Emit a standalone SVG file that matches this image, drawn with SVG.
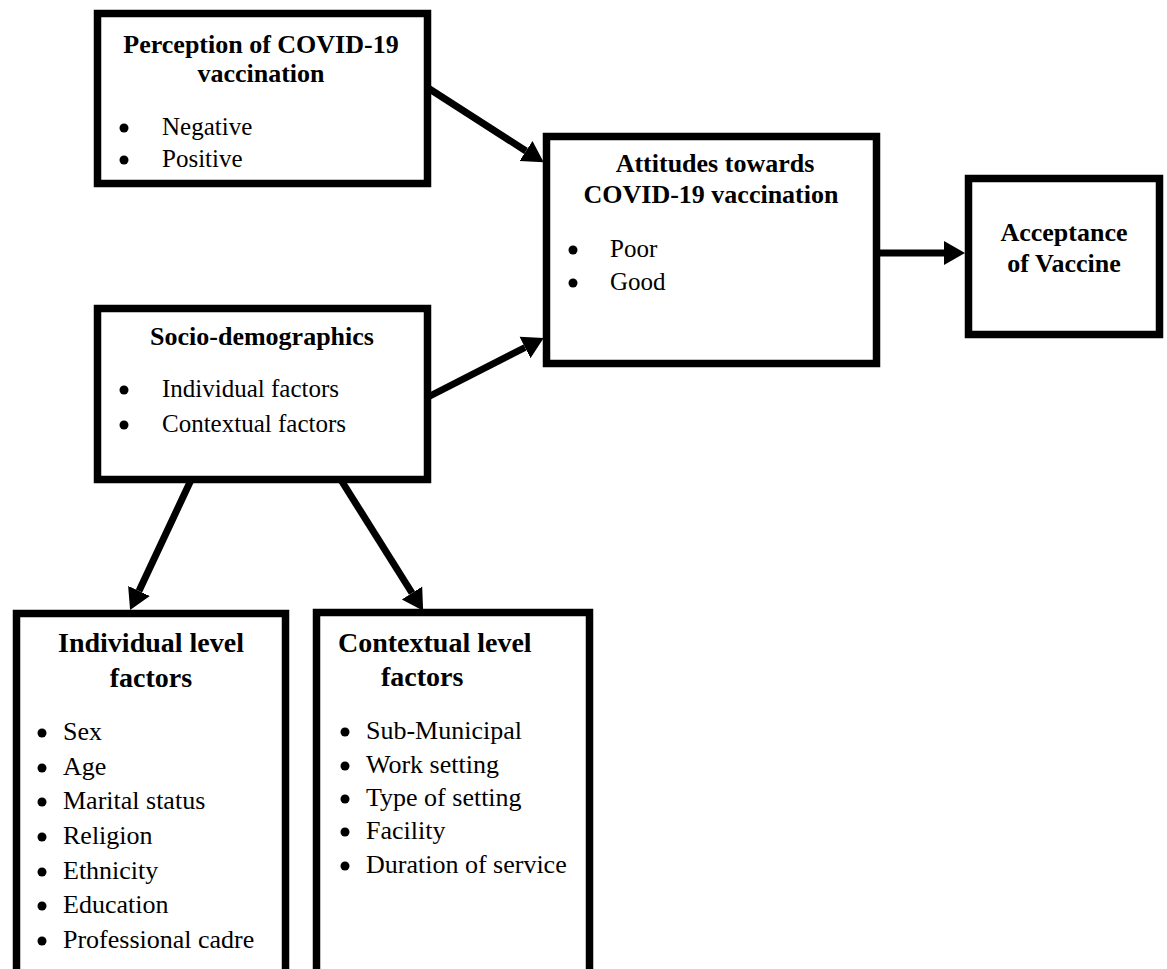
<svg xmlns="http://www.w3.org/2000/svg" width="1167" height="969" viewBox="0 0 1167 969">
<defs>
<style>
.box{fill:#fff;stroke:#000;stroke-width:7.5}
.t{font-family:"Liberation Serif","Times New Roman",serif;fill:#000}
.h{font-weight:bold;font-size:26px;text-anchor:middle}
.hl{font-weight:bold;font-size:28px}
.i{font-size:25px}
.j{font-size:26px}
.d{fill:#000}
.c{fill:none;stroke:#000;stroke-width:7}
</style>
<marker id="ah" markerUnits="userSpaceOnUse" markerWidth="22" markerHeight="26" refX="0" refY="12" orient="auto" viewBox="0 0 22 24">
<path d="M0,0 L21,12 L0,24 z" fill="#000"/>
</marker>
</defs>
<rect width="1167" height="969" fill="#fff"/>
<g id="connectors">
<line class="c" x1="428" y1="88" x2="526" y2="151" marker-end="url(#ah)"/>
<line class="c" x1="428" y1="397" x2="525" y2="347.5" marker-end="url(#ah)"/>
<line class="c" x1="877" y1="253" x2="944" y2="253" marker-end="url(#ah)"/>
<line class="c" x1="191" y1="480" x2="139" y2="591" marker-end="url(#ah)"/>
<line class="c" x1="341" y1="480" x2="412" y2="593" marker-end="url(#ah)"/>
</g>
<g id="perception">
<rect class="box" x="97.5" y="13.5" width="330" height="170"/>
<text class="t h" x="261" y="53">Perception of COVID-19</text>
<text class="t h" x="261" y="82">vaccination</text>
<circle class="d" cx="124" cy="128" r="4.5"/>
<text class="t i" x="162" y="135">Negative</text>
<circle class="d" cx="124" cy="160" r="4.5"/>
<text class="t i" x="162" y="167">Positive</text>
</g>
<g id="attitudes">
<rect class="box" x="546.5" y="136.5" width="330" height="227"/>
<text class="t h" x="715" y="172">Attitudes towards</text>
<text class="t h" x="711" y="203">COVID-19 vaccination</text>
<circle class="d" cx="573" cy="250" r="4.5"/>
<text class="t i" x="610" y="257">Poor</text>
<circle class="d" cx="573" cy="283" r="4.5"/>
<text class="t i" x="610" y="290">Good</text>
</g>
<g id="acceptance">
<rect class="box" x="968.5" y="178.5" width="191" height="156"/>
<text class="t h" x="1064" y="241">Acceptance</text>
<text class="t h" x="1064" y="272">of Vaccine</text>
</g>
<g id="socio">
<rect class="box" x="97.5" y="308.5" width="330" height="171"/>
<text class="t h" x="262" y="345">Socio-demographics</text>
<circle class="d" cx="124" cy="390" r="4.5"/>
<text class="t i" x="162" y="397">Individual factors</text>
<circle class="d" cx="124" cy="425" r="4.5"/>
<text class="t i" x="162" y="432">Contextual factors</text>
</g>
<g id="individual">
<rect class="box" x="16.5" y="613.5" width="269" height="400"/>
<text class="t hl" x="151" y="652" text-anchor="middle">Individual level</text>
<text class="t hl" x="151" y="687" text-anchor="middle">factors</text>
<circle class="d" cx="42" cy="733" r="4.5"/>
<text class="t j" x="63" y="740">Sex</text>
<circle class="d" cx="42" cy="768" r="4.5"/>
<text class="t j" x="63" y="775">Age</text>
<circle class="d" cx="42" cy="802" r="4.5"/>
<text class="t j" x="63" y="809">Marital status</text>
<circle class="d" cx="42" cy="837" r="4.5"/>
<text class="t j" x="63" y="844">Religion</text>
<circle class="d" cx="42" cy="872" r="4.5"/>
<text class="t j" x="63" y="879">Ethnicity</text>
<circle class="d" cx="42" cy="906" r="4.5"/>
<text class="t j" x="63" y="913">Education</text>
<circle class="d" cx="42" cy="941" r="4.5"/>
<text class="t j" x="63" y="948">Professional cadre</text>
</g>
<g id="contextual">
<rect class="box" x="316.5" y="612.5" width="273" height="400"/>
<text class="t hl" x="338" y="652">Contextual level</text>
<text class="t hl" x="381" y="686">factors</text>
<circle class="d" cx="345" cy="732" r="4.5"/>
<text class="t j" x="366" y="739">Sub-Municipal</text>
<circle class="d" cx="345" cy="766" r="4.5"/>
<text class="t j" x="366" y="773">Work setting</text>
<circle class="d" cx="345" cy="799" r="4.5"/>
<text class="t j" x="366" y="806">Type of setting</text>
<circle class="d" cx="345" cy="832" r="4.5"/>
<text class="t j" x="366" y="839">Facility</text>
<circle class="d" cx="345" cy="866" r="4.5"/>
<text class="t j" x="366" y="873">Duration of service</text>
</g>
</svg>
